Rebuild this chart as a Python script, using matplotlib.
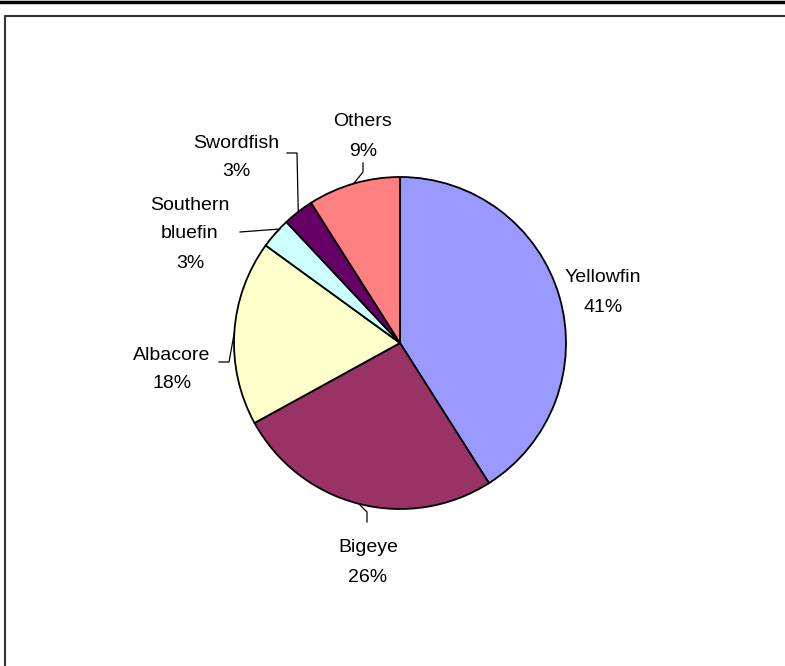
import numpy as np
import matplotlib
matplotlib.use("Agg")
import matplotlib.pyplot as plt
from matplotlib.lines import Line2D

# Catch composition by species (%)
species = ["Yellowfin", "Bigeye", "Albacore", "Southern\nbluefin", "Swordfish", "Others"]
shares = [41, 26, 18, 3, 3, 9]
colors = ["#9999FF", "#993366", "#FFFFCC", "#CCFFFF", "#660066", "#FF8080"]

W, H = 785, 666
fig = plt.figure(figsize=(W / 100, H / 100), dpi=100)
ax = fig.add_axes([0, 0, 1, 1])

cx, cy, r = 400, H - 343, 166
wedges, _ = ax.pie(shares, colors=colors, startangle=90, counterclock=False,
                   center=(cx, cy), radius=r, frame=True,
                   wedgeprops=dict(edgecolor="black", linewidth=1.3))
ax.set_xlim(0, W)
ax.set_ylim(0, H)
ax.set_aspect("equal")
ax.axis("off")

# label layout: text centre (x, y of first line) and leader elbow points (image px, y down)
layout = {
    "Yellowfin": dict(text=(603, 278), leader=None),
    "Bigeye": dict(text=(368, 548), leader=[(367, 512), (367, 522)]),
    "Albacore": dict(text=(172, 355), leader=[(229, 362), (219, 362)]),
    "Southern\nbluefin": dict(text=(190, 205), leader=[(280, 229), (240, 232)]),
    "Swordfish": dict(text=(236, 143), leader=[(297, 153), (287, 153)]),
    "Others": dict(text=(363, 122), leader=[(363, 172), (363, 163)]),
}

font = dict(family=["Liberation Sans", "DejaVu Sans"], fontsize=14, color="black")
step = 29
for w, name, val in zip(wedges, species, shares):
    lay = layout[name]
    lines = name.split("\n") + [f"{val}%"]
    tx, ty = lay["text"]
    for i, s in enumerate(lines):
        ax.text(tx, H - (ty + i * step), s, ha="center", va="center", **font)
    if lay["leader"]:
        mid = np.deg2rad((w.theta1 + w.theta2) / 2)
        ex, ey = cx + r * np.cos(mid), cy + r * np.sin(mid)
        pts = [(ex, ey)] + [(px, H - py) for px, py in lay["leader"]]
        xs, ys = zip(*pts)
        ax.plot(xs, ys, color="black", linewidth=0.9)

# page frame
fig.add_artist(Line2D([0, 1], [1 - 2 / H, 1 - 2 / H], color="black", linewidth=2.5,
                      transform=fig.transFigure))
fig.add_artist(Line2D([4.5 / W, 4.5 / W, 1], [0, 1 - 15.5 / H, 1 - 15.5 / H],
                      color="#333333", linewidth=1.5, transform=fig.transFigure))

fig.savefig("out.png", dpi=100, facecolor="white")
